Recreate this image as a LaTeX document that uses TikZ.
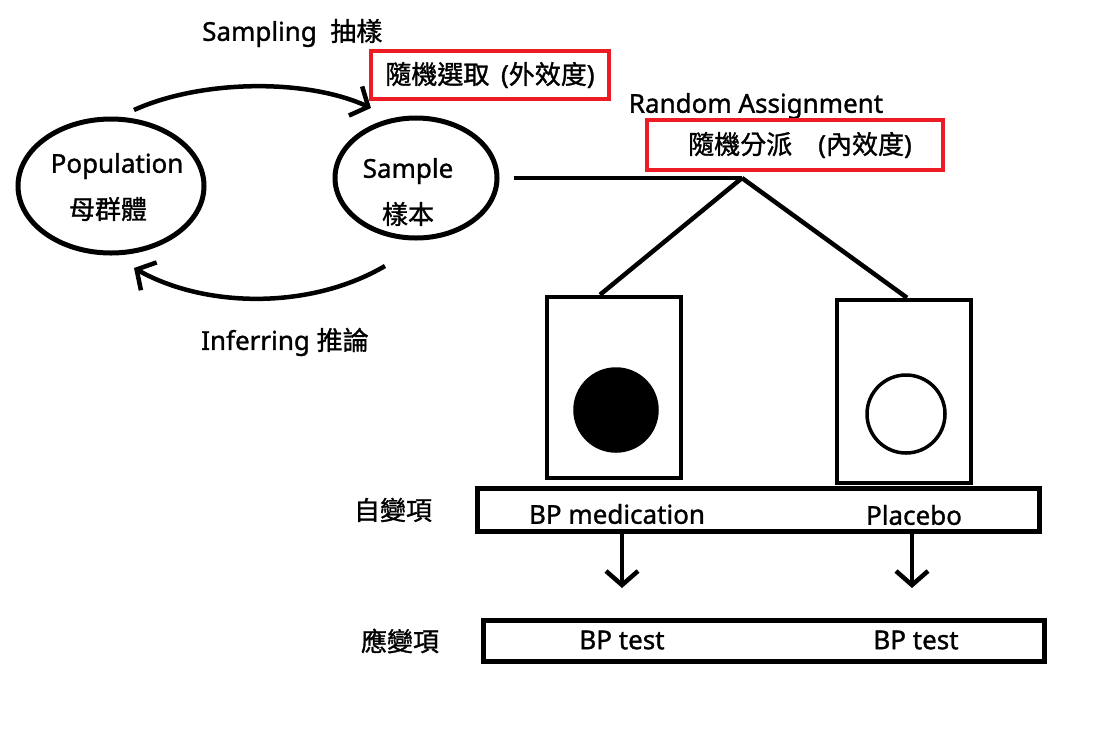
\documentclass[tikz,border=0pt]{standalone}
\usepackage{fontspec}
\setmainfont{Noto Sans}[FakeBold=1.2]
\newfontfamily\zh{Noto Sans CJK TC}[FakeBold=1.2]
\usepackage{tikz}
\usetikzlibrary{positioning, arrows.meta, shapes.geometric}
\definecolor{FrameRed}{RGB}{237,28,36}
\tikzstyle{txt} = [inner sep=0pt, font=\fontsize{26}{30}\selectfont]
\tikzstyle{arrow} = [line width=4.5pt, black, -{Straight Barb[length=14pt, width=32pt]}]
\tikzstyle{redbox} = [rectangle, draw=FrameRed, line width=4pt, inner sep=0pt]
\tikzstyle{blackbox} = [rectangle, draw, line width=4.5pt, inner sep=0pt]

\begin{document}
\begin{tikzpicture}[x=1pt, y=-1pt]
\useasboundingbox (0,0) rectangle (1113,740);

% Population and sample
\node[ellipse, draw, line width=5pt, minimum width=186pt, minimum height=134pt] (pop) at (111,186) {};
\node[txt] (poptext) at (117,166) {Population};
\node[txt] (popzh) at (108,209) {\zh 母群體};
\node[ellipse, draw, line width=5pt, minimum width=162pt, minimum height=120pt] (smp) at (416,178) {};
\node[txt] (smptext) at (408,171) {Sample};
\node[txt] (smpzh) at (408,214) {\zh 樣本};

% Sampling and inferring
\coordinate (popout) at (134,110);
\coordinate (smpin) at (371,108);
\coordinate (smpout) at (385,266);
\coordinate (popin) at (134,268);
\draw[arrow] (popout) .. controls (200,80) and (305,78) .. (smpin);
\draw[arrow] (smpout) .. controls (310,310) and (205,308) .. (popin);
\node[txt, anchor=west] (sampling) at (202,33) {Sampling\ \ {\zh 抽樣}};
\node[redbox, minimum width=238pt, minimum height=48pt] (extbox) at (490,75) {\fontsize{26}{30}\selectfont\zh 隨機選取\ \ {\rmfamily(}外效度{\rmfamily)}};
\node[txt, anchor=west] (inferring) at (201,342) {Inferring {\zh 推論}};

% Random assignment
\node[txt] (assign) at (756,106) {Random Assignment};
\node[redbox, minimum width=296pt, minimum height=50pt] (intbox) at (795,145) {\fontsize{26}{30}\selectfont\zh \hspace*{10pt}隨機分派\quad{\rmfamily(}內效度{\rmfamily)}};
\coordinate (split) at (742,178);
\draw[line width=4.5pt] ([xshift=14pt]smp.east) -- (split);

% Groups
\node[blackbox, minimum width=134pt, minimum height=181pt] (medgrp) at (614,387.5) {};
\node[blackbox, minimum width=134pt, minimum height=183pt] (plcgrp) at (904,391.5) {};
\draw[line width=4.5pt] (split) -- ([xshift=-14pt]medgrp.north);
\draw[line width=4.5pt] (split) -- ([xshift=3pt]plcgrp.north);
\node[circle, draw, line width=3.5pt, fill=black, minimum size=82pt] (medball) at (616,410) {};
\node[circle, draw, line width=3.5pt, minimum size=78pt] (plcball) at (906,414) {};

% Variables
\node[txt] (ivlbl) at (393,510) {\zh 自變項};
\node[blackbox, minimum width=562pt, minimum height=43pt] (ivbox) at (758.5,510) {};
\node[txt] (medlbl) at (617,514) {BP medication};
\node[txt] (plclbl) at (914,515) {Placebo};
\coordinate (medend) at (622,588);
\coordinate (plcend) at (912,588);
\draw[arrow] (ivbox.south -| medend) -- (medend);
\draw[arrow] (ivbox.south -| plcend) -- (plcend);
\node[txt] (dvlbl) at (400,641) {\zh 應變項};
\node[blackbox, minimum width=561pt, minimum height=41pt] (dvbox) at (764,641) {};
\node[txt] (medtest) at (622,640) {BP test};
\node[txt] (plctest) at (916,640) {BP test};
\end{tikzpicture}
\end{document}
